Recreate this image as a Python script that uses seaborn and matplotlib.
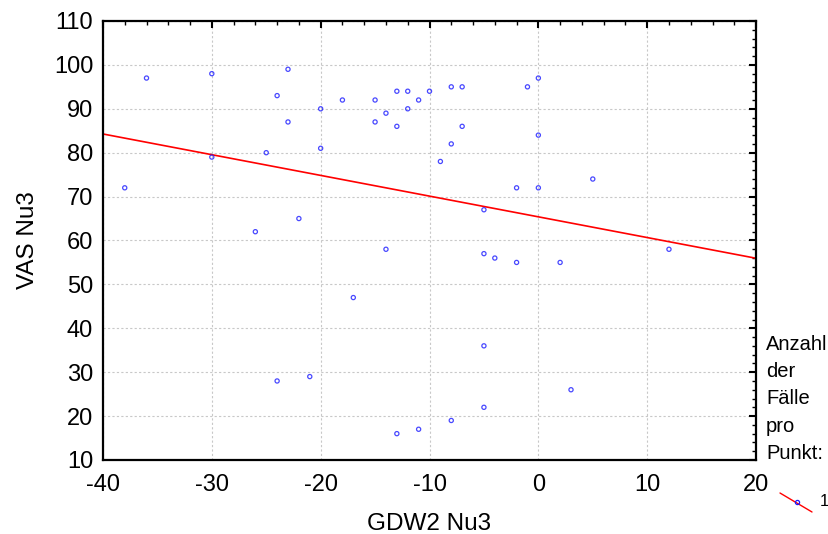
import matplotlib.pyplot as plt
import seaborn as sns
import pandas as pd
from matplotlib.lines import Line2D
from matplotlib.ticker import MultipleLocator

# values
gdw2_nu3 = [-38, -36, -30, -30, -24, -23, -23, -25, -20, -20, -26, -22, -18,
            -15, -15, -14, -13, -13, -12, -12, -11, -10, -8, -7, -7, -8, -9,
            -1, 0, 0, 0, -2, 5, -5, -14, -5, -4, -2, 2, 12, -17, -5, -24,
            -21, 3, -5, -8, -13, -11]
vas_nu3 = [72, 97, 98, 79, 93, 99, 87, 80, 90, 81, 62, 65, 92,
           92, 87, 89, 94, 86, 94, 90, 92, 94, 95, 95, 86, 82, 78,
           95, 97, 84, 72, 72, 74, 67, 58, 57, 56, 55, 55, 58, 47, 36, 28,
           29, 26, 22, 19, 16, 17]

df = pd.DataFrame({'GDW2 Nu3': gdw2_nu3, 'VAS Nu3': vas_nu3})

sns.set_style('white')
plt.rcParams['font.family'] = ['Liberation Sans', 'DejaVu Sans']
plt.rcParams['axes.unicode_minus'] = False
plt.rcParams['text.color'] = 'black'
plt.rcParams['axes.labelcolor'] = 'black'
plt.rcParams['xtick.color'] = 'black'
plt.rcParams['ytick.color'] = 'black'

fig = plt.figure(figsize=(8.29, 5.34), dpi=100)
ax = fig.add_axes([0.1242, 0.1386, 0.7878, 0.8221])

# set limits first so the fitted line spans the whole axis
ax.set_xlim(-40, 20)
ax.set_ylim(10, 110)

scatter_kws = dict(marker='o', s=9, facecolors='none', edgecolors='#1a1aff',
                   linewidths=0.9, zorder=3)
line_kws = dict(color='#ff0000', linewidth=1.2, zorder=2)
sns.regplot(data=df, x='GDW2 Nu3', y='VAS Nu3', ax=ax, ci=None, truncate=False,
            scatter_kws=scatter_kws, line_kws=line_kws)

ax.set_xlim(-40, 20)
ax.set_ylim(10, 110)
ax.xaxis.set_major_locator(MultipleLocator(10))
ax.xaxis.set_minor_locator(MultipleLocator(2))
ax.yaxis.set_major_locator(MultipleLocator(10))
ax.yaxis.set_minor_locator(MultipleLocator(2))
ax.tick_params(which='both', direction='in', top=True, right=True,
               color='black', labelcolor='black', labelsize=17)
ax.tick_params(axis='x', which='major', pad=10)
ax.tick_params(axis='y', which='major', pad=7)
ax.tick_params(which='major', length=5, width=1.5)
ax.tick_params(which='minor', length=3, width=1)
ax.grid(True, which='major', color='#c8c8c8', linestyle=(0, (2, 2)),
        linewidth=0.8)
for spine in ax.spines.values():
    spine.set_visible(True)
    spine.set_color('black')
    spine.set_linewidth(1.6)

ax.set_xlabel('GDW2 Nu3', fontsize=17.5, labelpad=12, color='black')
ax.set_ylabel('VAS Nu3', fontsize=17.5, labelpad=11, color='black')

# legend block on the right
fig.text(766 / 829, 1 - 335 / 534, 'Anzahl\nder\nFälle\npro\nPunkt:',
         fontsize=14.5, ha='left', va='top', linespacing=1.55, color='black')
fig.add_artist(Line2D([780 / 829, 812 / 829], [1 - 493 / 534, 1 - 512 / 534],
                      color='#ff0000', linewidth=1.0))
fig.add_artist(Line2D([797 / 829], [1 - 502 / 534], marker='o', markersize=3,
                      markerfacecolor='none', markeredgecolor='#1a1aff',
                      markeredgewidth=0.9))
fig.text(820 / 829, 1 - 502 / 534, '1', fontsize=12, ha='left', va='center',
         color='black')

fig.savefig('out.png', dpi=100, facecolor='white')
